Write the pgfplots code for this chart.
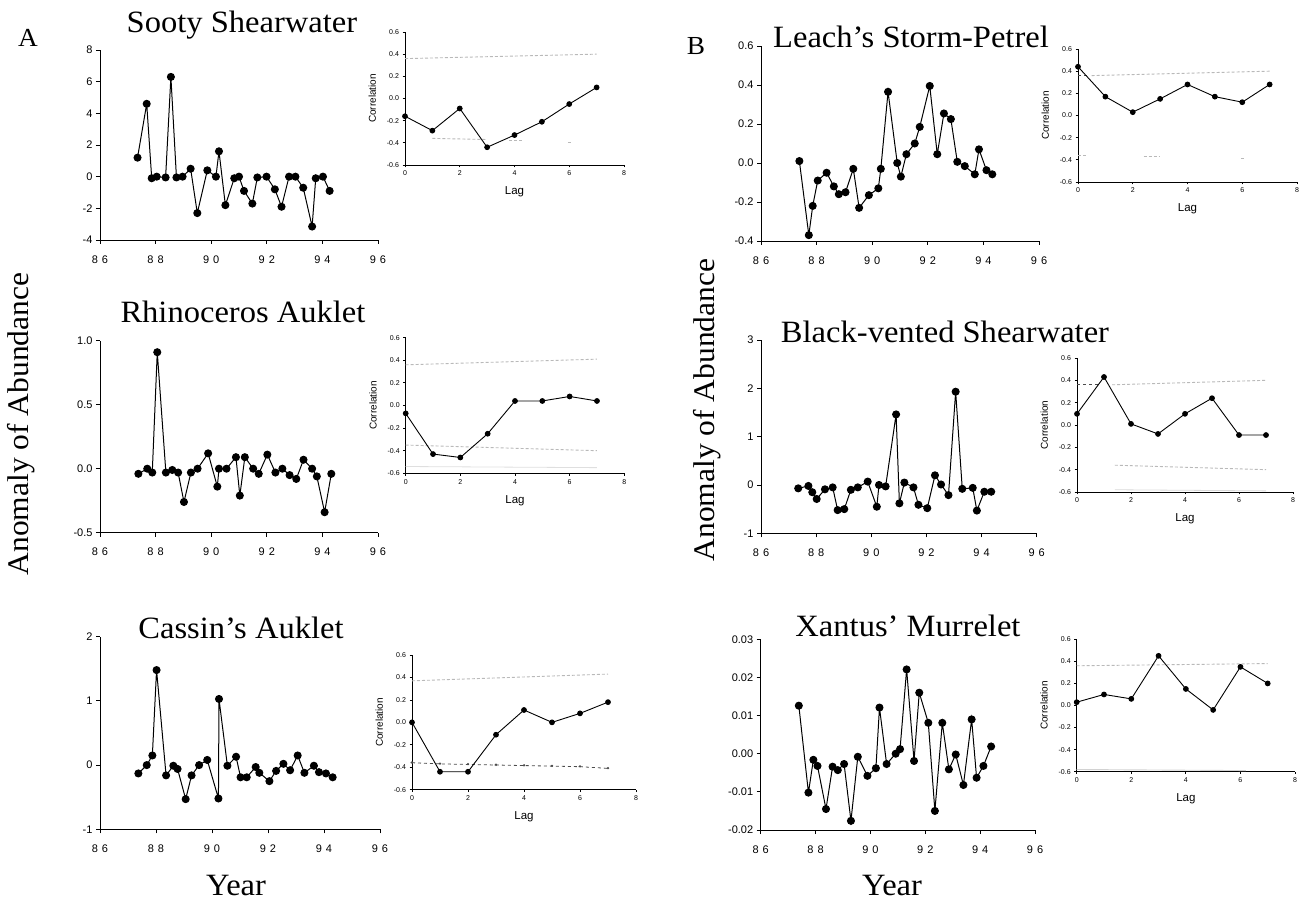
\documentclass[border=0pt]{standalone}
\usepackage{fontspec}
\setmainfont{Liberation Serif}
\setsansfont{Liberation Sans}
\newfontfamily\pal[FakeStretch=1.05]{Liberation Serif}
\usepackage{pgfplots}
\pgfplotsset{compat=1.18}

\pgfplotsset{
  base/.style={scale only axis, anchor=south west, clip=false,
    axis x line*=bottom, axis y line*=left,
    tick align=outside, scaled y ticks=false,
    axis line style={black, line width=0.9pt},
    tick style={black, line width=0.8pt},
    /pgf/number format/assume math mode=true},
  prec/.style={/pgf/number format/fixed, /pgf/number format/fixed zerofill,
    /pgf/number format/precision=#1},
  ts/.style={base, xmin=86, xmax=96, xtick={86,88,90,92,94,96},
    xticklabels={8\hspace{4pt}6,8\hspace{4pt}8,9\hspace{4pt}0,9\hspace{4pt}2,9\hspace{4pt}4,9\hspace{4pt}6},
    major tick length=4pt,
    tick label style={font=\sffamily\fontsize{11}{13}\selectfont},
    xticklabel style={yshift=-8pt}},
  cor/.style={base, xmin=0, xmax=8, ymin=-0.6, ymax=0.6,
    xtick={0,2,4,6,8}, ytick={-0.6,-0.4,-0.2,0,0.2,0.4,0.6},
    major tick length=2.5pt, prec=1,
    axis line style={black, line width=0.7pt},
    tick label style={font=\sffamily\fontsize{7}{8}\selectfont},
    xticklabel style={/pgf/number format/precision=0, /pgf/number format/fixed zerofill=false},
    xlabel=Lag, ylabel=Correlation,
    xlabel style={font=\sffamily\fontsize{11.5}{13}\selectfont, yshift=-4pt},
    ylabel style={font=\sffamily\fontsize{10}{12}\selectfont, yshift=4pt}},
  ser/.style={black, line width=1pt, mark=*, mark size=3.5pt, mark options={solid, fill=black}},
  cser/.style={black, line width=0.9pt, mark=*, mark size=2.4pt, mark options={solid, fill=black}},
  ci/.style={gray!55, densely dashed, line width=0.9pt},
  cidark/.style={black!70, dashed, line width=0.8pt},
}

\begin{document}
\begin{tikzpicture}
\path[use as bounding box] (0pt,0pt) rectangle (1301pt,900pt);

% ---------- A: Sooty Shearwater ----------
\begin{axis}[ts, at={(100pt,660pt)}, width=278pt, height=190pt,
  ymin=-4, ymax=8, ytick={-4,-2,0,2,4,6,8}]
\addplot[ser] coordinates {
(87.35,1.2) (87.68,4.6) (87.86,-0.1) (88.04,0.0) (88.36,-0.05) (88.55,6.3)
(88.75,-0.05) (88.97,0.0) (89.26,0.5) (89.50,-2.3) (89.86,0.4) (90.17,0.0)
(90.28,1.6) (90.51,-1.8) (90.83,-0.1) (91.00,0.0) (91.18,-0.9) (91.48,-1.7)
(91.66,-0.05) (91.99,0.0) (92.29,-0.8) (92.53,-1.9) (92.80,0.0) (93.03,0.0)
(93.31,-0.7) (93.63,-3.15) (93.76,-0.1) (94.02,0.0) (94.26,-0.9)};
\end{axis}

\begin{axis}[cor, at={(405pt,735pt)}, width=219pt, height=133pt]
\addplot[ci] coordinates {(0,0.36) (7,0.40)};
\addplot[ci] coordinates {(1,-0.36) (3,-0.37)};
\addplot[ci] coordinates {(3.8,-0.38) (4.3,-0.38)};
\addplot[ci] coordinates {(5.95,-0.40) (6.05,-0.40)};
\addplot[cser] coordinates {(0,-0.16) (1,-0.29) (2,-0.09) (3,-0.44) (4,-0.33) (5,-0.21) (6,-0.05) (7,0.10)};
\end{axis}

% ---------- A: Rhinoceros Auklet ----------
\begin{axis}[ts, at={(100pt,367.3pt)}, width=278pt, height=192pt,
  ymin=-0.5, ymax=1.0, ytick={-0.5,0,0.5,1.0}, prec=1]
\addplot[ser] coordinates {
(87.38,-0.04) (87.70,0.0) (87.88,-0.03) (88.06,0.91) (88.37,-0.03) (88.60,-0.01)
(88.81,-0.03) (89.02,-0.26) (89.27,-0.03) (89.51,0.0) (89.89,0.12) (90.22,-0.14)
(90.28,0.0) (90.55,0.0) (90.89,0.09) (91.03,-0.21) (91.21,0.09) (91.51,0.0)
(91.71,-0.04) (92.02,0.11) (92.31,-0.03) (92.56,0.0) (92.82,-0.05) (93.06,-0.08)
(93.32,0.07) (93.63,0.0) (93.80,-0.06) (94.08,-0.34) (94.32,-0.04)};
\end{axis}

\begin{axis}[cor, at={(405.7pt,426.7pt)}, width=218.6pt, height=135.6pt]
\addplot[ci] coordinates {(0,0.36) (7,0.41)};
\addplot[ci] coordinates {(0,-0.35) (7,-0.40)};
\addplot[gray!25, line width=0.8pt] coordinates {(0,-0.54) (7,-0.55)};
\addplot[cser] coordinates {(0,-0.07) (1,-0.43) (2,-0.46) (3,-0.25) (4,0.04) (5,0.04) (6,0.08) (7,0.04)};
\end{axis}

% ---------- A: Cassin's Auklet ----------
\begin{axis}[ts, at={(100pt,70.7pt)}, width=280pt, height=192.6pt,
  ymin=-1, ymax=2, ytick={-1,0,1,2}]
\addplot[ser] coordinates {
(87.37,-0.13) (87.67,0.0) (87.87,0.15) (88.02,1.48) (88.36,-0.16) (88.62,-0.01)
(88.77,-0.06) (89.06,-0.53) (89.27,-0.16) (89.54,0.0) (89.83,0.08) (90.23,-0.52)
(90.25,1.03) (90.55,-0.01) (90.86,0.13) (91.02,-0.19) (91.24,-0.19) (91.56,-0.03)
(91.69,-0.12) (92.05,-0.25) (92.29,-0.09) (92.55,0.02) (92.79,-0.08) (93.06,0.15)
(93.30,-0.12) (93.64,-0.01) (93.82,-0.11) (94.07,-0.13) (94.31,-0.19)};
\end{axis}

\begin{axis}[cor, at={(412pt,110.3pt)}, width=224pt, height=134.7pt]
\addplot[ci] coordinates {(0,0.37) (7,0.43)};
\addplot[cidark, mark=*, mark size=1pt] coordinates {(0,-0.36) (1,-0.37) (2,-0.375) (3,-0.38) (4,-0.385) (5,-0.39) (6,-0.395) (7,-0.41)};
\addplot[cser] coordinates {(0,0.0) (1,-0.44) (2,-0.44) (3,-0.11) (4,0.11) (5,0.0) (6,0.08) (7,0.18)};
\end{axis}

% ---------- B: Leach's Storm-Petrel ----------
\begin{axis}[ts, at={(761pt,659pt)}, width=278pt, height=195pt,
  ymin=-0.4, ymax=0.6, ytick={-0.4,-0.2,0,0.2,0.4,0.6}, prec=1]
\addplot[ser] coordinates {
(87.38,0.01) (87.72,-0.37) (87.86,-0.22) (88.04,-0.09) (88.36,-0.05) (88.62,-0.12)
(88.80,-0.16) (89.04,-0.15) (89.32,-0.03) (89.53,-0.23) (89.88,-0.165) (90.22,-0.13)
(90.31,-0.03) (90.57,0.365) (90.90,0.0) (91.03,-0.07) (91.23,0.045) (91.53,0.10)
(91.71,0.185) (92.07,0.395) (92.34,0.045) (92.58,0.254) (92.83,0.225) (93.06,0.006)
(93.33,-0.016) (93.69,-0.058) (93.84,0.07) (94.11,-0.037) (94.32,-0.058)};
\end{axis}

\begin{axis}[cor, at={(1078pt,718pt)}, width=219pt, height=133pt]
\addplot[cidark] coordinates {(0,0.36) (0.4,0.36)};
\addplot[ci] coordinates {(0.5,0.36) (7,0.40)};
\addplot[ci] coordinates {(0,-0.36) (0.3,-0.36)};
\addplot[ci] coordinates {(2.4,-0.37) (3,-0.37)};
\addplot[ci] coordinates {(5.95,-0.39) (6.05,-0.39)};
\addplot[cser] coordinates {(0,0.44) (1,0.17) (2,0.03) (3,0.15) (4,0.28) (5,0.17) (6,0.12) (7,0.28)};
\end{axis}

% ---------- B: Black-vented Shearwater ----------
\begin{axis}[ts, at={(761pt,366.7pt)}, width=275.7pt, height=193.3pt,
  ymin=-1, ymax=3, ytick={-1,0,1,2,3}]
\addplot[ser] coordinates {
(87.35,-0.07) (87.72,-0.02) (87.86,-0.15) (88.02,-0.29) (88.32,-0.09) (88.60,-0.05)
(88.78,-0.52) (89.02,-0.50) (89.26,-0.10) (89.51,-0.05) (89.87,0.07) (90.20,-0.45)
(90.28,0.0) (90.52,-0.03) (90.90,1.46) (91.02,-0.38) (91.20,0.05) (91.53,-0.05)
(91.71,-0.41) (92.03,-0.48) (92.31,0.20) (92.53,0.01) (92.80,-0.21) (93.06,1.93)
(93.30,-0.08) (93.68,-0.06) (93.83,-0.53) (94.10,-0.14) (94.35,-0.14)};
\end{axis}

\begin{axis}[cor, at={(1077pt,408pt)}, width=216pt, height=134pt]
\addplot[cidark] coordinates {(0,0.36) (0.8,0.36)};
\addplot[ci] coordinates {(1.3,0.36) (7,0.40)};
\addplot[ci] coordinates {(1.4,-0.36) (7,-0.40)};
\addplot[gray!30, line width=0.8pt] coordinates {(1.4,-0.58) (7,-0.59)};
\addplot[cser] coordinates {(0,0.10) (1,0.43) (2,0.01) (3,-0.08) (4,0.10) (5,0.24) (6,-0.09) (7,-0.09)};
\end{axis}

% ---------- B: Xantus' Murrelet ----------
\begin{axis}[ts, at={(760.7pt,70pt)}, width=274.3pt, height=190.7pt,
  ymin=-0.02, ymax=0.03, ytick={-0.02,-0.01,0,0.01,0.02,0.03}, prec=2]
\addplot[ser] coordinates {
(87.39,0.0126) (87.74,-0.0102) (87.92,-0.0016) (88.07,-0.0032) (88.38,-0.0145) (88.62,-0.0034)
(88.81,-0.0043) (89.04,-0.0027) (89.29,-0.0176) (89.54,-0.0008) (89.89,-0.0058) (90.20,-0.0038)
(90.33,0.0121) (90.59,-0.0027) (90.92,0.0) (91.08,0.0012) (91.32,0.0221) (91.59,-0.0019)
(91.78,0.0160) (92.11,0.0081) (92.35,-0.0150) (92.62,0.0081) (92.86,-0.0041) (93.11,-0.0002)
(93.39,-0.0082) (93.69,0.0090) (93.87,-0.0063) (94.12,-0.0032) (94.40,0.0019)};
\end{axis}

\begin{axis}[cor, at={(1076.7pt,128.3pt)}, width=218.3pt, height=132.4pt]
\addplot[ci] coordinates {(0,0.36) (7,0.38)};
\addplot[gray!35, line width=0.9pt] coordinates {(0,-0.58) (6.2,-0.59)};
\addplot[cser] coordinates {(0,0.03) (1,0.10) (2,0.06) (3,0.45) (4,0.15) (5,-0.04) (6,0.35) (7,0.20)};
\end{axis}

% ---------- titles and labels ----------
\begin{scope}[every node/.style={font=\pal\fontsize{31}{34}\selectfont, anchor=base, inner sep=0pt}]
\node at (242pt,867pt) {Sooty Shearwater};
\node at (243pt,577pt) {Rhinoceros Auklet};
\node at (241pt,261pt) {Cassin’s Auklet};
\node at (911pt,852pt) {Leach’s Storm-Petrel};
\node at (945pt,557pt) {Black-vented Shearwater};
\node at (908pt,263pt) {Xantus’ Murrelet};
\node at (236pt,5pt) {Year};
\node at (892pt,5pt) {Year};
\node[rotate=90, font=\pal\fontsize{30}{34}\selectfont] at (28pt,476pt) {Anomaly of Abundance};
\node[rotate=90, font=\pal\fontsize{30}{34}\selectfont] at (714pt,490pt) {Anomaly of Abundance};
\node[font=\pal\fontsize{26}{28}\selectfont] at (28pt,853pt) {A};
\node[font=\pal\fontsize{26}{28}\selectfont] at (696pt,845pt) {B};
\end{scope}
\end{tikzpicture}
\end{document}
